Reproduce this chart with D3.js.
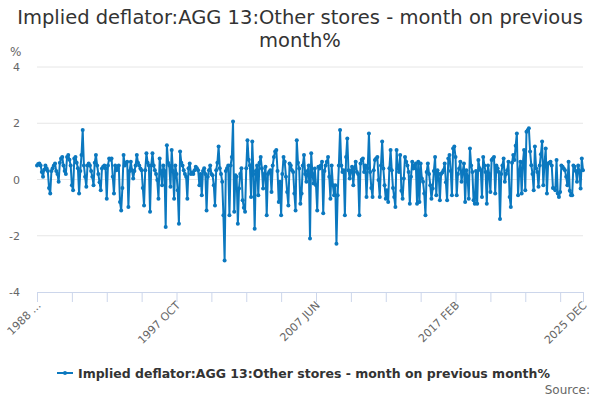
<!DOCTYPE html>
<html>
<head>
<meta charset="utf-8">
<script src="https://cdn.jsdelivr.net/npm/d3@7"></script>
<style>
  body { margin: 0; background: #fff; }
  svg { font-family: "DejaVu Sans", sans-serif; }
</style>
</head>
<body>
<div id="chart"></div>
<script>
// Monthly series, 1988 FEB .. 2025 DEC (455 points)
const startYear = 1988
const startMonth = 1   // FEB (0-based)
const monthNames = ["JAN","FEB","MAR","APR","MAY","JUN","JUL","AUG","SEP","OCT","NOV","DEC"]

const values = [
  // 1988 FEB ..
  0.5, 0.55, 0.57, 0.5, 0.27, 0.1, 0.35, 0.5, 0.4, 0.3, -0.3, -0.5, 0.3, 0.4, 0.5,
  0.57, 0.3, 0.2, -0.08, 0.6, 0.75, 0.8, 0.5, 0.3, 0.2, 0.8, 0.87, 0.7, 0.5, -0.2,
  -0.38, 0.75, 0.8, 0.6, 0.4, -0.5, 0.3, 0.87, 1.76, 0.5, 0.1, -0.26, 0.5, 0.57, 0.5,
  // 1991 ..
  0.3, 0.1, -0.2, 0.6, 0.87, 0.5, 0.2, -0.1, -0.38, 0.39, 0.45, 0.5, 0.4, -0.68, 0.5,
  0.75, 0.7, 0.75, 0.1, -0.5, 0.5, 0.33, 0.4, 0.5, -0.8, -1.1, -0.3, 0.87, 0.5, 0.6,
  0.63, -0.98, 0.3, 0.63, 0.33, 0.04, 0.3, 0.5, 0.87, 0.6, 0.5, 0.39, 0.33, -0.3, -0.92,
  // 1995 ..
  0.33, 0.93, 0.6, 0.5, -1.15, 0.5, 0.93, 0.5, 0.33, 0.2, -0.02, -0.68, 0.75, 0.3, -0.2,
  0.5, 0.3, -1.69, 1.22, 0.6, 0.5, -0.26, 1.05, 0.3, -0.68, 0.5, 0.2, -0.38, -1.57, 1.0,
  0.6, 0.5, 0.33, 0.2, 0.1, -0.68, 0.4, 0.57, 0.2, 0.25, 0.2, 0.33, 0.45, 0.4, 0.33, -0.2,
  // 1999 ..
  0.2, -0.56, 0.3, 0.4, 0.2, -1.1, 0.1, 0.33, 0.5, 0.2, 0.15, -0.2, -0.92, 0.33, 0.6,
  1.17, 0.4, 0.2, -0.08, -1.27, -2.88, 0.3, 0.4, 0.5, -1.27, 0.5, 0.8, 2.06, -1.15, 0.15,
  0.1, -1.57, -0.32, 0.2, 0.4, -0.74, -1.0, -1.15, 0.4, 1.4, 0.7, 0.5, -0.62, 1.35, 0.2, -1.75,
  // 2003 ..
  0.3, 0.5, -0.56, 0.6, 0.8, 0.39, -0.32, 0.2, 0.45, -1.27, 0.2, 0.27, 0.33, -0.44, 0.5,
  0.8, 1.0, 1.05, 0.3, -0.8, -0.08, -1.27, 0.2, 0.8, 0.63, 0.1, -0.44, -0.92, 0.57, 0.5,
  0.33, 0.27, -0.5, -1.1, 1.4, 0.6, 0.39, -0.86, -0.5, 0.5, 0.87, 0.2, -0.08, 0.3, 0.5,
  // 2007 ..
  -2.1, 0.93, 0.2, -0.14, 0.39, -0.2, -1.1, 0.45, 0.39, 0.5, 0.63, -1.2, 0.3, 0.5, 0.63,
  0.8, 0.1, -0.68, 0.5, -0.2, -0.56, -0.2, -2.28, -0.56, 0.5, 1.76, 0.5, 0.27, 0.33, -1.27,
  0.8, 1.46, 0.33, 0.04, 0.3, 0.45, -0.2, 0.4, 0.63, 0.27, 0.2, -1.27, 0.57, 0.7, 0.75, 0.27,
  // 2010 ..
  0.5, -0.62, 0.4, 1.64, 0.27, -0.3, -0.62, 0.33, 0.69, 0.75, 0.8, -0.02, -0.62, 0.5, 1.35,
  0.39, -0.2, -0.68, -0.38, -0.8, 0.4, 1.05, 0.33, -0.3, -0.62, -0.98, 1.05, 0.4, 0.27, 0.87,
  -0.4, -0.68, 0.04, 0.8, 0.63, 0.5, 0.27, -0.86, 0.1, 0.63, 0.39, 0.5, 0.57, -0.86, 0.63, -0.8,
  // 2014 ..
  0.57, 0.04, -0.08, -0.5, -1.27, 0.27, 0.57, 0.2, -0.2, -0.68, -0.32, 0.3, 0.8, -0.56, 0.33,
  0.2, -0.74, 0.2, 0.25, 0.33, 0.57, -0.1, -0.74, 0.75, 0.87, 0.3, -0.56, 1.1, 1.17, 0.8,
  -0.56, 0.2, 0.39, 0.63, -0.08, 0.3, 0.57, -0.8, 0.33, 0.1, -0.68, 1.1, 0.5, 0.27, -0.74, -0.86,
  // 2018 ..
  0.3, -0.86, 0.69, 0.4, 0.33, -0.62, 0.8, 0.5, 0.27, -0.86, 0.5, 0.2, -0.44, 0.69, 0.75,
  0.8, -0.5, 0.5, 0.4, 0.27, -1.4, 0.2, 0.5, 0.75, -0.08, 0.2, 0.33, 0.63, -0.62, -0.98,
  0.6, 0.87, 0.69, 1.2, 1.64, -0.56, 0.3, 0.63, -0.5, 0.6, 1.05, -0.38, 1.7, 1.75, 1.82,
  // 2022 ..
  1.0, 0.51, 0.2, -0.38, 1.17, 0.4, 0.27, -0.26, 0.5, 0.9, 1.35, -0.2, 0.6, 1.1, -0.5,
  0.57, 0.6, 0.63, 0.5, -0.3, -0.32, -0.38, 0.69, -0.5, -0.62, -0.44, 0.5, 0.45, 0.39, 0.33,
  0.1, -0.2, 0.63, -0.4, -0.56, -0.56, 0.5, 0.45, 0.3, -0.08, 0.5, 0.3, -0.32, 0.75, 0.33
]

const categories = values.map((v, i) => {
    const m = startMonth + i
    return (startYear + Math.floor(m / 12)) + " " + monthNames[m % 12]
})

const yTicks = [4, 2, 0, -2, -4]
const tickEvery = 29
const labelEvery = 116
const firstLabel = "1988 ..."

const titleLines = ["Implied deflator:AGG 13:Other stores - month on previous", "month%"]
const seriesName = "Implied deflator:AGG 13:Other stores - month on previous month%"

const width = 600
const height = 400
const margins = { top: 67, right: 17, bottom: 108, left: 37 }
const color = "#0b78bf"

const svg = d3.select("#chart").append("svg")
    .attr("width", width)
    .attr("height", height)

const xScale = d3.scaleLinear()
    .domain([0, values.length - 1])
    .range([margins.left, width - margins.right])

const yScale = d3.scaleLinear()
    .domain([-4, 4])
    .range([height - margins.bottom, margins.top])

// title
svg.append("g").selectAll("text")
    .data(titleLines)
    .join("text")
    .attr("x", width / 2)
    .attr("y", (d, i) => 23.5 + i * 23)
    .attr("text-anchor", "middle")
    .style("font-size", "19.5px")
    .style("fill", "#333")
    .text(d => d)

// grid lines
svg.append("g")
    .selectAll("line")
    .data(yTicks.filter(d => d != -4))
    .join("line")
    .attr("x1", margins.left)
    .attr("x2", width - margins.right)
    .attr("y1", d => yScale(d))
    .attr("y2", d => yScale(d))
    .attr("stroke", "#e6e6e6")

// y axis labels
svg.append("g")
    .selectAll("text")
    .data(yTicks)
    .join("text")
    .attr("x", 20)
    .attr("y", d => yScale(d) + 4)
    .attr("text-anchor", "end")
    .style("font-size", "11px")
    .style("fill", "#666")
    .text(d => d)

svg.append("text")
    .attr("x", 10)
    .attr("y", 56)
    .style("font-size", "12px")
    .style("fill", "#666")
    .text("%")

// x axis
const tickIdx = d3.range(0, values.length, tickEvery).concat([values.length - 1])
const xAxis = d3.axisBottom(xScale)
    .tickValues(tickIdx)
    .tickSize(10)
    .tickFormat(i => {
        if (i == 0) return firstLabel
        if (i == values.length - 1 || i % labelEvery == 0) return categories[i]
        return ""
    })

const gx = svg.append("g")
    .attr("transform", "translate(0," + yScale(-4) + ")")
    .call(xAxis)
gx.select(".domain").attr("stroke", "#ccd6eb")
gx.selectAll(".tick line").attr("stroke", "#ccd6eb")
gx.selectAll(".tick text")
    .attr("text-anchor", "end")
    .attr("dy", null)
    .attr("y", 0)
    .attr("transform", "translate(4,14) rotate(-45)")
    .style("font-size", "11px")
    .style("font-family", "'DejaVu Sans', sans-serif")
    .style("fill", "#666")

// series
const lineFun = d3.line()
    .x((d, i) => xScale(i))
    .y(d => yScale(d))

svg.append("path")
    .datum(values)
    .attr("d", lineFun)
    .attr("fill", "none")
    .attr("stroke", color)
    .attr("stroke-width", 2)
    .attr("stroke-linejoin", "round")

svg.append("g")
    .selectAll("circle")
    .data(values)
    .join("circle")
    .attr("cx", (d, i) => xScale(i))
    .attr("cy", d => yScale(d))
    .attr("r", 2)
    .attr("fill", color)

// legend
const legend = svg.append("g").attr("transform", "translate(57,373)")
legend.append("line")
    .attr("x1", 0).attr("x2", 16)
    .attr("stroke", color).attr("stroke-width", 2)
legend.append("circle").attr("cx", 8).attr("r", 2).attr("fill", color)
legend.append("text")
    .attr("x", 21)
    .attr("y", 4.5)
    .style("font-size", "12.5px")
    .style("font-weight", "bold")
    .style("fill", "#333")
    .text(seriesName)

svg.append("text")
    .attr("x", 590)
    .attr("y", 394)
    .attr("text-anchor", "end")
    .style("font-size", "12px")
    .style("fill", "#666")
    .text("Source:")
</script>
</body>
</html>
